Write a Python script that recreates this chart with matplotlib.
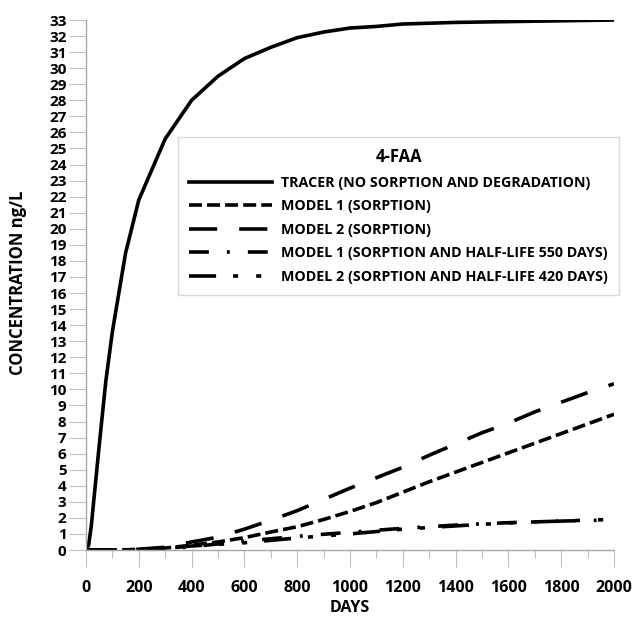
import matplotlib
matplotlib.use("Agg")
import matplotlib.pyplot as plt
from matplotlib.ticker import MultipleLocator

plt.rcParams["font.family"] = ["Open Sans", "DejaVu Sans"]
plt.rcParams["font.weight"] = "bold"

# tracer breakthrough (no sorption, no degradation)
tracer_days = [0, 10, 20, 50, 75, 100, 150, 200, 300, 400, 500, 600, 700, 800,
               900, 1000, 1100, 1200, 1400, 1600, 1800, 2000]
tracer_conc = [0, 0.3, 1.5, 6.5, 10.5, 13.6, 18.5, 21.8, 25.6, 28.0, 29.5, 30.6,
               31.3, 31.9, 32.25, 32.5, 32.6, 32.75, 32.85, 32.9, 32.95, 33.0]

days = [0, 100, 200, 300, 400, 500, 600, 700, 800, 900, 1000, 1100, 1200, 1300,
        1400, 1500, 1600, 1700, 1800, 1900, 2000]
model1_sorp = [0, 0, 0.03, 0.12, 0.3, 0.5, 0.77, 1.12, 1.45, 1.9, 2.4, 2.95, 3.6,
               4.25, 4.85, 5.45, 6.05, 6.65, 7.25, 7.85, 8.45]
model2_sorp = [0, 0, 0.05, 0.17, 0.5, 0.8, 1.3, 1.85, 2.45, 3.15, 3.85, 4.5, 5.15,
               5.9, 6.6, 7.3, 7.9, 8.6, 9.2, 9.8, 10.35]
model1_hl550 = [0, 0, 0.02, 0.08, 0.2, 0.38, 0.55, 0.7, 0.85, 0.98, 1.1, 1.23, 1.35,
                1.45, 1.55, 1.63, 1.7, 1.75, 1.8, 1.84, 1.87]
model2_hl420 = [0, 0, 0.03, 0.1, 0.25, 0.35, 0.45, 0.6, 0.75, 0.88, 1.0, 1.15, 1.3,
                1.4, 1.5, 1.6, 1.68, 1.75, 1.8, 1.86, 1.9]

labels = ["TRACER (NO SORPTION AND DEGRADATION)",
          "MODEL 1 (SORPTION)",
          "MODEL 2 (SORPTION)",
          "MODEL 1 (SORPTION AND HALF-LIFE 550 DAYS)",
          "MODEL 2 (SORPTION AND HALF-LIFE 420 DAYS)"]

fig = plt.figure(figsize=(6.35, 6.19), dpi=100)
ax = fig.add_axes([86 / 635, 1 - 550 / 619, 528 / 635, 530 / 619])

lw = 2.6
ax.plot(tracer_days, tracer_conc, color="black", lw=lw, label=labels[0])
ax.plot(days, model1_sorp, color="black", lw=lw, dashes=(3.6, 1.4), label=labels[1])
ax.plot(days, model2_sorp, color="black", lw=lw, dashes=(7.8, 6.1), label=labels[2])
ax.plot(days, model1_hl550, color="black", lw=lw, dashes=(5.5, 5, 0.8, 5),
        label=labels[3])
ax.plot(days, model2_hl420, color="black", lw=lw,
        dashes=(7.5, 4.7, 1.4, 5, 1.4, 4.7), label=labels[4])

ax.set_xlim(0, 2000)
ax.set_ylim(0, 33)
ax.xaxis.set_major_locator(MultipleLocator(200))
ax.xaxis.set_minor_locator(MultipleLocator(100))
ax.yaxis.set_major_locator(MultipleLocator(1))

for side in ("top", "right"):
    ax.spines[side].set_visible(False)
for side in ("left", "bottom"):
    ax.spines[side].set_color("#a6a6a6")
    ax.spines[side].set_linewidth(1)

ax.tick_params(axis="x", which="major", direction="out", length=12.5, width=0.8,
               color="#bfbfbf", pad=9, labelsize=11.5)
ax.tick_params(axis="x", which="minor", direction="out", length=6, width=0.8,
               color="#bfbfbf")
ax.tick_params(axis="y", which="major", direction="out", length=12, width=0.8,
               color="#bfbfbf", pad=2, labelsize=11)
for t in ax.get_xticklabels() + ax.get_yticklabels():
    t.set_fontweight("bold")

ax.set_xlabel("DAYS", fontsize=11.5, fontweight="bold")
ax.set_ylabel("CONCENTRATION ng/L", fontsize=12, fontweight="bold")
ax.xaxis.set_label_coords(0.5, -0.094)
ax.yaxis.set_label_coords(-0.112, 0.505)

leg = ax.legend(loc="upper left", bbox_to_anchor=(178 / 635, 1 - 137 / 619),
                bbox_transform=fig.transFigure, borderaxespad=0, title="4-FAA",
                prop={"size": 10.3, "weight": "bold"}, handlelength=5.8,
                handletextpad=0.6, labelspacing=0.66, borderpad=0.8,
                fancybox=False, framealpha=1, edgecolor="#d9d9d9")
leg.get_title().set_fontweight("bold")
leg.get_title().set_fontsize(12)
leg.get_frame().set_linewidth(1)

fig.savefig("out.png", dpi=100)
